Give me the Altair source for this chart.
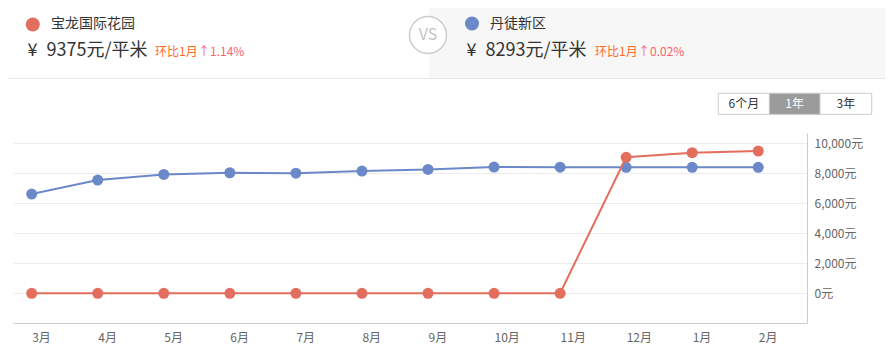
import altair as alt
import pandas as pd

# ---------------- data ----------------
months = ["3月", "4月", "5月", "6月", "7月", "8月", "9月", "10月", "11月", "12月", "1月", "2月"]
names = ["宝龙国际花园", "丹徒新区"]
baolong = [0, 0, 0, 0, 0, 0, 0, 0, 0, 9070, 9375, 9490]
dantu = [6620, 7550, 7930, 8040, 8010, 8150, 8260, 8420, 8410, 8400, 8400, 8400]
prices = [9375, 8293]
change_label = "环比1月"
changes = ["↑1.14%", "↑0.02%"]
y_ticks = [0, 2000, 4000, 6000, 8000, 10000]
buttons = ["6个月", "1年", "3年"]
colors = ["#e36e5d", "#6b88c9"]

rows = []
for i, m in enumerate(months):
    rows.append({"idx": i, "month": m, "series": names[1], "value": dantu[i], "ord": 0})
for i, m in enumerate(months):
    rows.append({"idx": i, "month": m, "series": names[0], "value": baolong[i], "ord": 1})
df = pd.DataFrame(rows)

FONT = "Noto Sans CJK SC"
one = pd.DataFrame({"k": [0]})

label_expr = "[" + ",".join("'%s'" % m for m in months) + "][datum.value]"

x_enc = alt.X("idx:Q",
              scale=alt.Scale(domain=[-0.283, 11.738], nice=False, zero=False),
              axis=alt.Axis(values=list(range(len(months))), labelExpr=label_expr,
                            title=None, grid=False, ticks=False, tickSize=0,
                            domainColor="#cccccc", labelColor="#666666",
                            labelFontSize=12, labelAlign="left", labelPadding=9,
                            labelFont=FONT))
y_enc = alt.Y("value:Q",
              scale=alt.Scale(domain=[-1980, 10690], nice=False, zero=False),
              axis=alt.Axis(orient="right", values=y_ticks,
                            labelExpr="format(datum.value, ',') + '元'",
                            title=None, grid=True, gridColor="#ececec",
                            ticks=False, tickSize=0, domainColor="#cccccc",
                            labelColor="#666666", labelFontSize=12,
                            labelPadding=7, labelFont=FONT))
color_enc = alt.Color("series:N", scale=alt.Scale(domain=names, range=colors), legend=None)

lines = []
for s in [names[1], names[0]]:
    sub = df[df.series == s]
    lines.append(alt.Chart(sub).mark_line(strokeWidth=2).encode(x=x_enc, y=y_enc, color=color_enc))
    lines.append(alt.Chart(sub).mark_circle(size=121, opacity=1).encode(x=x_enc, y=y_enc, color=color_enc))


def txt(s, x, y, size=12, color="#333333", align="left", weight="normal"):
    return alt.Chart(one).mark_text(text=s, align=align, baseline="middle",
                                    fontSize=size, color=color, font=FONT,
                                    fontWeight=weight).encode(
        x=alt.value(x), y=alt.value(y))


def rect(x, x2, y, y2, fill, stroke=None):
    kw = dict(fill=fill)
    if stroke:
        kw.update(stroke=stroke, strokeWidth=1)
    return alt.Chart(one).mark_rect(**kw).encode(
        x=alt.value(x), x2=alt.value(x2), y=alt.value(y), y2=alt.value(y2))


deco = []
# header background (right panel grey)
deco.append(rect(416, 880, -133, -55, "#f7f7f7"))
deco.append(alt.Chart(one).mark_rule(color="#e6e6e6", strokeWidth=1).encode(
    x=alt.value(-13), x2=alt.value(880), y=alt.value(-54.5)))
# VS circle
deco.append(alt.Chart(one).mark_point(shape="circle", size=1369, filled=False,
                                      fill="#ffffff", fillOpacity=1, stroke="#cccccc",
                                      strokeWidth=1.5, opacity=1).encode(
    x=alt.value(415), y=alt.value(-98)))
deco.append(txt("VS", 415, -98, size=16, color="#c4c4c4", align="center"))
# series 1 header
deco.append(alt.Chart(one).mark_circle(size=196, color=colors[0], opacity=1).encode(
    x=alt.value(19.8), y=alt.value(-108.5)))
deco.append(txt(names[0], 38, -109, size=14))
deco.append(txt("¥", 14.5, -82.5, size=18))
deco.append(txt("%d元/平米" % prices[0], 33.5, -82.5, size=18))
deco.append(txt(change_label, 142, -81, size=12, color="#ff6a1f"))
deco.append(txt(changes[0], 185, -81, size=12, color="#ff5f6d"))
# series 2 header
deco.append(alt.Chart(one).mark_circle(size=196, color=colors[1], opacity=1).encode(
    x=alt.value(459), y=alt.value(-109.5)))
deco.append(txt(names[1], 477, -109, size=14))
deco.append(txt("¥", 453.5, -82, size=18))
deco.append(txt("%d元/平米" % prices[1], 472.5, -82, size=18))
deco.append(txt(change_label, 582, -81, size=12, color="#ff6a1f"))
deco.append(txt(changes[1], 625, -81, size=12, color="#ff5f6d"))
# range buttons
deco.append(rect(705.3, 858.7, -39.7, -18.7, "#ffffff", "#cccccc"))
deco.append(rect(756.3, 807, -39.7, -18.7, "#9b9b9b", "#cccccc"))
deco.append(txt(buttons[0], 730.8, -29.2, align="center"))
deco.append(txt(buttons[1], 781.6, -29.2, align="center", color="#ffffff"))
deco.append(txt(buttons[2], 832.8, -29.2, align="center"))

chart = alt.layer(*deco, *lines).properties(
    width=794, height=190,
    padding={"left": 5, "top": 125, "right": 78, "bottom": 26},
    autosize=alt.AutoSizeParams(type="none"),
    background="#ffffff",
).configure(font=FONT).configure_view(strokeWidth=0, stroke="transparent")

chart.save("out.html", embed_options={"renderer": "svg", "actions": False})
